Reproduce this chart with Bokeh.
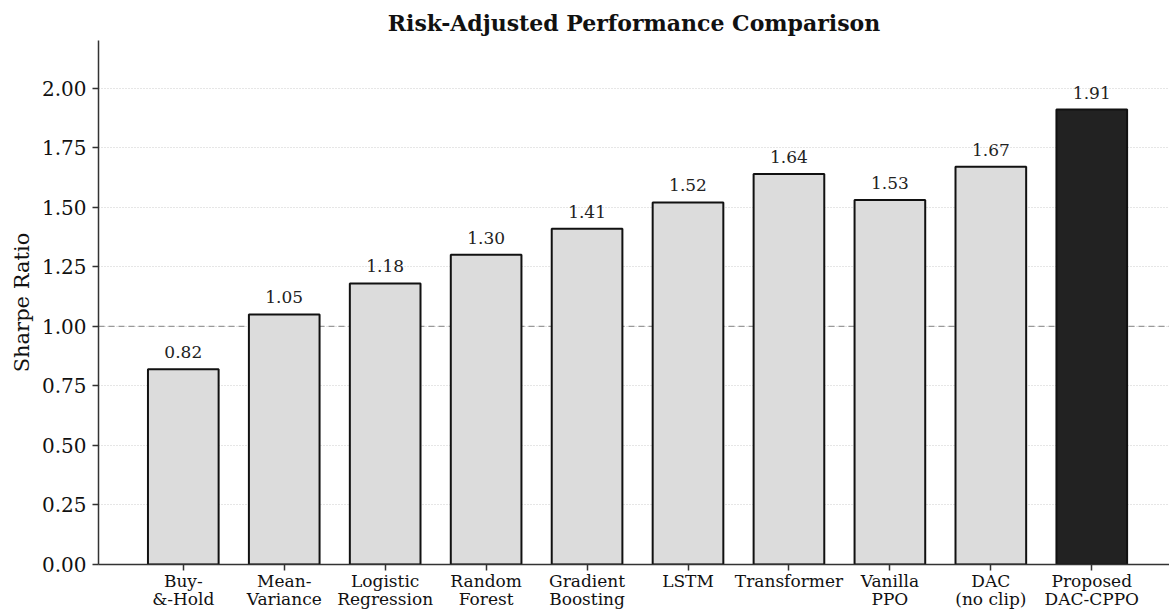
from bokeh.plotting import figure
from bokeh.models import ColumnDataSource, Range1d, FixedTicker, PrintfTickFormatter, Span
from bokeh.core.properties import value
from bokeh.embed import file_html
from bokeh.resources import INLINE

methods = ["Buy-\n&-Hold", "Mean-\nVariance", "Logistic\nRegression", "Random\nForest",
           "Gradient\nBoosting", "LSTM", "Transformer", "Vanilla\nPPO", "DAC\n(no clip)",
           "Proposed\nDAC-CPPO"]
sharpe = [0.82, 1.05, 1.18, 1.30, 1.41, 1.52, 1.64, 1.53, 1.67, 1.91]
y_ticks = [0.0, 0.25, 0.5, 0.75, 1.0, 1.25, 1.5, 1.75, 2.0]
reference_level = 1.0

FONT = "DejaVu Serif"
xs = list(range(len(methods)))
colors = ["#dcdcdc"] * (len(methods) - 1) + ["#222222"]
labels = [f"{v:.2f}" for v in sharpe]

src = ColumnDataSource(dict(x=xs, top=sharpe, color=colors, label=labels))

p = figure(width=1169, height=611, output_backend="svg", toolbar_location=None,
           x_range=Range1d(-0.84, 9.77), y_range=Range1d(0, 2.2),
           min_border_left=98, min_border_right=0, min_border_top=40, min_border_bottom=0,
           title="Risk-Adjusted Performance Comparison")
p.outline_line_color = None
p.background_fill_color = "white"
p.border_fill_color = "white"

p.title.text_font = FONT
p.title.text_font_size = "22px"
p.title.text_font_style = "bold"
p.title.align = "center"
p.title.text_color = "#111111"

ref = Span(location=reference_level, dimension="width", line_color="#999999",
           line_dash="6 4", line_width=1.3, level="underlay")
p.add_layout(ref)

p.vbar(x="x", top="top", width=0.7, bottom=0, source=src, fill_color="color",
       line_color="#111111", line_width=2)
p.text(x="x", y="top", text="label", source=src, text_align="center",
       text_baseline="bottom", y_offset=-11, text_font=value(FONT),
       text_font_size="17px", text_color="#222222")

p.xgrid.grid_line_color = None
p.ygrid.ticker = FixedTicker(ticks=y_ticks)
p.ygrid.grid_line_color = "#cccccc"
p.ygrid.grid_line_dash = "1 2"
p.ygrid.grid_line_width = 1

p.xaxis.ticker = FixedTicker(ticks=xs)
p.xaxis.major_label_overrides = {i: m for i, m in enumerate(methods)}
p.yaxis.ticker = FixedTicker(ticks=y_ticks)
p.yaxis.formatter = PrintfTickFormatter(format="%.2f")
p.yaxis.axis_label = "Sharpe Ratio"

for ax in (p.xaxis, p.yaxis):
    ax.axis_line_color = "#333333"
    ax.axis_line_width = 1.5
    ax.major_tick_line_color = "#333333"
    ax.major_tick_line_width = 1.5
    ax.major_tick_out = 6
    ax.major_tick_in = 0
    ax.minor_tick_line_color = None
    ax.major_label_text_font = FONT
    ax.major_label_text_color = "#111111"
    ax.axis_label_text_font = FONT
    ax.axis_label_text_font_style = "normal"
    ax.axis_label_text_color = "#111111"

p.xaxis.major_label_text_font_size = "17px"
p.xaxis.major_label_text_line_height = 0.92
p.xaxis.major_label_standoff = 0
p.yaxis.major_label_text_font_size = "20px"
p.yaxis.major_label_standoff = 6
p.yaxis.axis_label_text_font_size = "21px"

open("out.html", "w").write(file_html(p, INLINE))
